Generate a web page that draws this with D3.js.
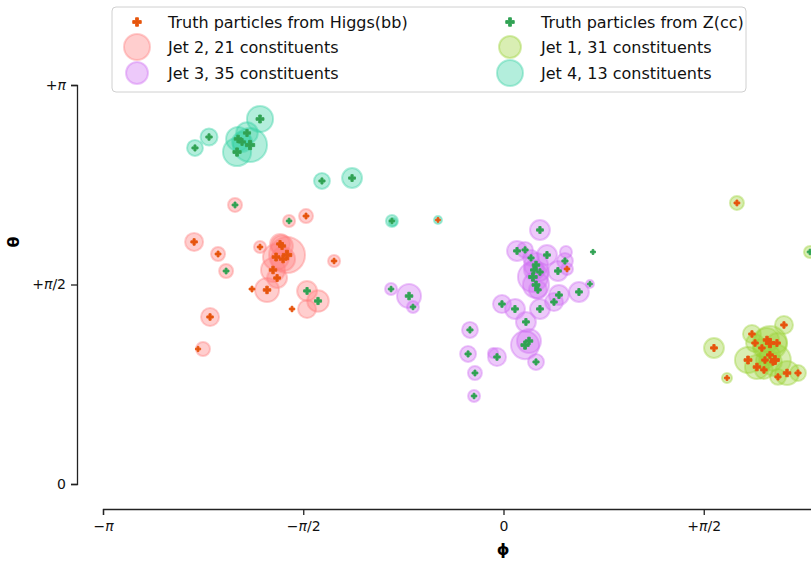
<!DOCTYPE html>
<html>
<head>
<meta charset="utf-8">
<script src="https://cdn.jsdelivr.net/npm/d3@7"></script>
<style>
  html, body { margin: 0; padding: 0; background: #fff; }
  svg { display: block; font-family: "DejaVu Sans", sans-serif; }
</style>
</head>
<body>
<svg id="chart" width="811" height="561"></svg>
<script>
// ---------- DATA (phi, theta in radians; e = energy-like weight; t = matched truth: H, Z or "") ----------
const jet1 = [ // Jet 1, 31 constituents (yellow-green)
  [1.651,1.071,11,"H"],[1.753,0.835,2.8,"H"],[2.200,1.252,9,"H"],[1.949,1.181,9,"H"],
  [2.310,0.874,7,"H"],[2.153,0.843,7,"H"],[1.831,2.213,5.4,"H"],[2.404,1.827,4,"Z"],
  [2.090,1.110,32,"H"],[1.918,0.976,19,"H"],[2.129,0.976,28,"H"],[1.988,0.921,16,"H"],
  [2.067,1.134,16,"H"],[2.224,0.874,16,"H"],[1.973,1.110,9,"H"],[2.145,1.110,11,"H"],
  [2.027,1.071,9,"H"],[2.090,1.016,11,"H"],[2.051,0.976,9,"H"],[2.114,0.961,9,"H"],
  [2.043,0.898,9,"H"]
];
const jet2 = [ // Jet 2, 21 constituents (light red)
  [-2.106,2.197,5.4,"Z"],[-1.682,2.071,4,"Z"],[-1.549,2.110,5.4,"H"],[-2.427,1.906,9,"H"],
  [-2.239,1.811,5.4,"H"],[-2.176,1.677,5.4,"Z"],[-1.910,1.866,4,"H"],[-1.329,1.756,4,"H"],
  [-1.753,1.890,11,"H"],[-1.698,1.803,36,"H"],[-1.784,1.787,19,"H"],[-1.808,1.685,16,"H"],
  [-1.776,1.622,11,"H"],[-1.855,1.528,16,"H"],[-1.541,1.520,11,"Z"],[-1.455,1.441,13,"Z"],
  [-1.541,1.378,9,""],[-2.302,1.315,9,"H"],[-2.357,1.063,5.4,""],[-1.729,1.771,16,"H"],
  [-1.737,1.874,13,"H"]
];
const jet3 = [ // Jet 3, 35 constituents (violet)
  [-0.882,1.535,4,"Z"],[-0.741,1.480,16,"Z"],[-0.710,1.394,4,"Z"],[-0.263,1.213,7,"Z"],
  [0.286,2.000,11,"Z"],[0.106,1.835,11,"Z"],[0.169,1.843,7,"Z"],[0.341,1.803,11,"Z"],
  [0.490,1.827,4,""],[0.482,1.756,7,"Z"],[0.427,1.677,11,"Z"],[0.498,1.693,4,"H"],
  [0.255,1.724,16,"Z"],[0.231,1.630,25,"Z"],[0.255,1.567,19,"Z"],[0.286,1.669,9,"Z"],
  [0.592,1.512,11,"Z"],[0.678,1.575,1.8,"Z"],[0.435,1.488,11,"Z"],[0.396,1.433,9,"Z"],
  [-0.012,1.417,9,"Z"],[0.090,1.378,11,"Z"],[0.286,1.378,11,"Z"],[0.176,1.276,11,"Z"],
  [-0.278,1.024,7,"Z"],[-0.224,0.874,5.4,"Z"],[-0.231,0.693,4,"Z"],[-0.051,1.000,9,"Z"],
  [-0.082,1.031,2.8,""],[0.169,1.094,22,"Z"],[0.200,1.126,16,"Z"],[0.255,0.961,7,"Z"],
  [0.216,1.780,7,"Z"],[0.270,1.528,9,"Z"],[0.239,1.685,11,"Z"]
];
const jet4 = [ // Jet 4, 13 constituents (teal)
  [-2.420,2.646,7,"Z"],[-2.310,2.732,8,"Z"],[-1.910,2.874,19,"Z"],[-2.090,2.614,22,"Z"],
  [-1.988,2.669,32,"Z"],[-2.082,2.717,16,"Z"],[-2.012,2.764,13,"Z"],[-1.424,2.386,7,"Z"],
  [-1.188,2.409,11,"Z"],[-0.875,2.071,4,"Z"],[-0.868,2.063,1.8,""],[-0.514,2.079,1.8,"H"],
  [-2.051,2.693,11,"Z"]
];
// truth particles not matched to any drawn constituent
const higgsExtra = [[-1.973,1.535,5],[-1.659,1.378,4],[-2.396,1.063,3]];
const zExtra = [[0.702,1.827,2.5]];

const jetNames = ["Jet 1","Jet 2","Jet 3","Jet 4"];
const jetCounts = [31,21,35,13];
const jetColors = ["#9ad236","#ff7f7f","#d070f2","#36d2a4"];
const truthNames = ["Truth particles from Higgs(bb)","Truth particles from Z(cc)"];
const truthColors = ["#e6550d","#31a354"];
const xTickValues = [-Math.PI, -Math.PI/2, 0, Math.PI/2];
const xTickLabels = ["−π","−π/2","0","+π/2"];
const yTickValues = [0, Math.PI/2, Math.PI];
const yTickLabels = ["0","+π/2","+π"];

// ---------- CHART ----------
const svg = d3.select("#chart");
const x = d3.scaleLinear().domain([-Math.PI, Math.PI]).range([103, 904]);
const y = d3.scaleLinear().domain([0, Math.PI]).range([484, 85]);
const r = d3.scaleSqrt().domain([0, 36]).range([0, 18]);
const plusW = d3.scaleSqrt().domain([0, 36]).range([3.4, 9.6]);
const plusPath = w => d3.symbol(d3.symbolCross, 0.556 * w * w)();

const jets = [jet1, jet2, jet3, jet4];
const g = svg.append("g");
jets.forEach((jet, i) => {
  g.append("g").selectAll("circle").data(jet).join("circle")
    .attr("cx", d => x(d[0])).attr("cy", d => y(d[1])).attr("r", d => r(d[2]))
    .attr("fill", jetColors[i]).attr("fill-opacity", 0.38)
    .attr("stroke", jetColors[i]).attr("stroke-opacity", 0.4).attr("stroke-width", 2);
});

const truth = [];
jets.forEach(jet => jet.forEach(d => { if (d[3]) truth.push([d[0], d[1], d[2], d[3]]); }));
higgsExtra.forEach(d => truth.push([d[0], d[1], d[2], "H"]));
zExtra.forEach(d => truth.push([d[0], d[1], d[2], "Z"]));
g.append("g").selectAll("path").data(truth).join("path")
  .attr("d", d => plusPath(plusW(d[2])))
  .attr("transform", d => `translate(${x(d[0])},${y(d[1])})`)
  .attr("fill", d => d[3] === "H" ? truthColors[0] : truthColors[1])
  .attr("stroke", d => d[3] === "H" ? truthColors[0] : truthColors[1])
  .attr("stroke-width", 0.9).attr("stroke-linejoin", "round");

// axes
const xAxis = d3.axisBottom(x).tickValues(xTickValues).tickSize(6).tickPadding(6)
  .tickFormat((d, i) => xTickLabels[i]);
const xg = svg.append("g").attr("transform", "translate(0,509)").call(xAxis);
const yAxis = d3.axisLeft(y).tickValues(yTickValues).tickSize(6).tickPadding(5)
  .tickFormat((d, i) => yTickLabels[i]);
const yg = svg.append("g").attr("transform", "translate(77,0)").call(yAxis);
[xg, yg].forEach(a => {
  a.select(".domain").attr("stroke", "#222").attr("stroke-width", 1.3);
  a.selectAll(".tick line").attr("stroke", "#222").attr("stroke-width", 1.3);
  a.selectAll(".tick text").attr("font-size", 14).attr("fill", "#111")
    .attr("font-family", "DejaVu Sans, sans-serif");
});
// italic pi
[xg, yg].forEach(a => a.selectAll(".tick text").each(function() {
  const t = d3.select(this), s = t.text();
  if (s.includes("π")) {
    t.text(null);
    s.split(/(π)/).filter(p => p).forEach(p => t.append("tspan").text(p)
      .attr("font-style", p === "π" ? "italic" : null));
  }
}));
svg.append("text").attr("x", 503).attr("y", 555).attr("text-anchor", "middle")
  .attr("font-size", 16).attr("font-weight", "bold").text("ϕ");
svg.append("text").attr("transform", "translate(19,242) rotate(-90)").attr("text-anchor", "middle")
  .attr("font-size", 16).attr("font-weight", "bold").text("θ");

// legend
const leg = svg.append("g");
leg.append("rect").attr("x", 112).attr("y", 7).attr("width", 634).attr("height", 85).attr("rx", 4)
  .attr("fill", "#fff").attr("fill-opacity", 0.8).attr("stroke", "#d0d0d0");
const legendItems = [
  {type: "plus", color: truthColors[0], label: truthNames[0]},
  {type: "circle", color: jetColors[1], label: `${jetNames[1]}, ${jetCounts[1]} constituents`, rr: 13},
  {type: "circle", color: jetColors[2], label: `${jetNames[2]}, ${jetCounts[2]} constituents`, rr: 11},
  {type: "plus", color: truthColors[1], label: truthNames[1]},
  {type: "circle", color: jetColors[0], label: `${jetNames[0]}, ${jetCounts[0]} constituents`, rr: 11},
  {type: "circle", color: jetColors[3], label: `${jetNames[3]}, ${jetCounts[3]} constituents`, rr: 13}
];
const colX = [137, 510], rowY = [22, 47, 73];
legendItems.forEach((it, i) => {
  const cx = colX[Math.floor(i / 3)], cy = rowY[i % 3];
  if (it.type === "plus") {
    leg.append("path").attr("d", plusPath(8.5)).attr("transform", `translate(${cx},${cy})`)
      .attr("fill", it.color).attr("stroke", it.color).attr("stroke-width", 0.9).attr("stroke-linejoin", "round");
  } else {
    leg.append("circle").attr("cx", cx).attr("cy", cy).attr("r", it.rr)
      .attr("fill", it.color).attr("fill-opacity", 0.38)
      .attr("stroke", it.color).attr("stroke-opacity", 0.4).attr("stroke-width", 2);
  }
  leg.append("text").attr("x", cx + 31).attr("y", cy).attr("dy", "0.35em")
    .attr("font-size", 16).attr("fill", "#111").text(it.label);
});
</script>
</body>
</html>
